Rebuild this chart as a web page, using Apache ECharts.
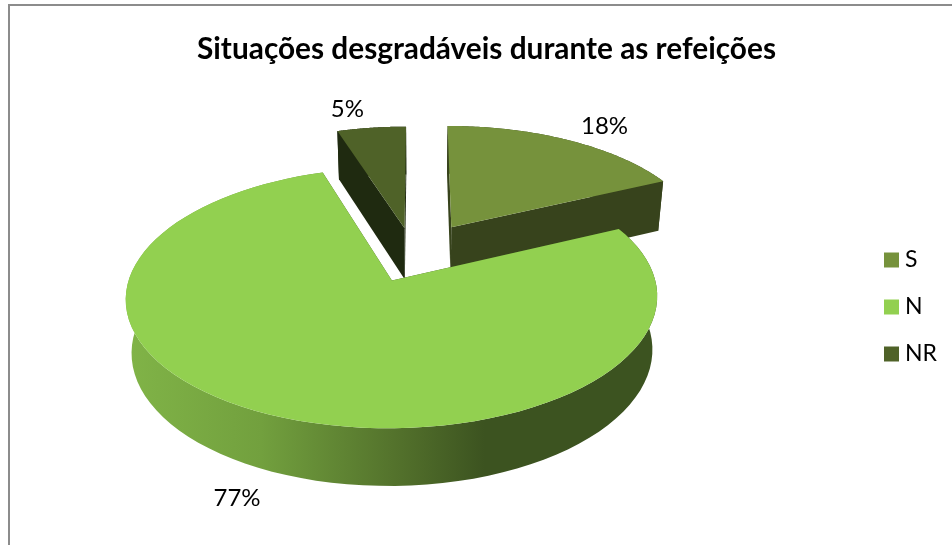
<!DOCTYPE html>
<html>
<head>
<meta charset="utf-8">
<title>Situações desgradáveis durante as refeições</title>
<script src="https://cdn.jsdelivr.net/npm/echarts@6/dist/echarts.min.js"></script>
<style>
  html, body { margin: 0; padding: 0; background: #fff; overflow: hidden; }
  #main { width: 952px; height: 545px; }
</style>
</head>
<body>
<div id="main"></div>
<script>
const titleText = 'Situações desgradáveis durante as refeições';
const categories = ['S', 'N', 'NR'];
const percents = [18, 77, 5];

// estilo de cada fatia
const topColors = { S: '#76923c', N: '#92d050', NR: '#4f6228' };
const wallColors = { S: '#37431c', N: '#3c5320', NR: '#1f2a10' };
const labelOffsets = { S: [36, -14], N: [-32, 84], NR: [-24, -18] };
// deslocamento da fatia no disco (explosao), em raios
const explodes = { S: [0.134, 0.211], N: [-0.099, -0.229], NR: [-0.054, 0.203] };

// vista 3D: centro, raios, perspectiva
const view = { cx: 418, cy: 252, rx: 255.5, ry: 120.5, k: 0.13, bottomScale: 0.98 };
const STEPS = 90;

const total = percents.reduce((a, b) => a + b, 0);

// ponto do disco (x para a direita, y para o fundo) -> ecra
function project(x, y, low) {
  const s = 1 / (1 + view.k * y);
  let px = view.cx + view.rx * x * s;
  let py = view.cy - view.ry * y * s;
  if (low) {
    px = view.cx + (px - view.cx) * view.bottomScale;
    py += 22 + 30 * s;
  }
  return [px, py];
}

function sliceGeometry(name) {
  const i = categories.indexOf(name);
  const before = percents.slice(0, i).reduce((a, b) => a + b, 0);
  const a0 = before / total * Math.PI * 2;
  const a1 = (before + percents[i]) / total * Math.PI * 2;
  const mid = (a0 + a1) / 2;
  const ox = explodes[name][0];
  const oy = explodes[name][1];
  const arc = low => {
    const pts = [];
    for (let t = 0; t <= STEPS; t++) {
      const a = a0 + (a1 - a0) * t / STEPS;
      pts.push(project(ox + Math.sin(a), oy + Math.cos(a), low));
    }
    return pts;
  };
  return { mid, ox, oy, arc };
}

function renderSlice(name, value) {
  const g = sliceGeometry(name);
  const top = g.arc(false);
  const low = g.arc(true);
  const apex = project(g.ox, g.oy, false);
  const apexLow = project(g.ox, g.oy, true);
  const last = top.length - 1;

  let rimFill = wallColors[name];
  if (name === 'N') {
    rimFill = new echarts.graphic.LinearGradient(131, 0, 651, 0, [
      { offset: 0, color: '#80b347' },
      { offset: 0.25, color: '#72a03e' },
      { offset: 0.52, color: '#52702b' },
      { offset: 0.68, color: '#3c5320' },
      { offset: 1, color: '#3c5320' }
    ], true);
  }

  const poly = (points, fill) => ({
    type: 'polygon',
    shape: { points },
    style: { fill, stroke: null }
  });

  const rm = project(g.ox + Math.sin(g.mid), g.oy + Math.cos(g.mid), false);
  const off = labelOffsets[name];

  return {
    type: 'group',
    children: [
      poly(top.concat(low.slice().reverse()), rimFill),
      poly([apex, top[0], low[0], apexLow], wallColors[name]),
      poly([apex, top[last], low[last], apexLow], wallColors[name]),
      poly([apex].concat(top), topColors[name]),
      {
        type: 'text',
        style: {
          text: value + '%',
          x: rm[0] + off[0],
          y: rm[1] + off[1],
          align: 'center',
          verticalAlign: 'middle',
          font: '24px Lato',
          fill: '#000'
        }
      }
    ]
  };
}

const myChart = echarts.init(document.getElementById('main'));

// ordem de desenho: do fundo para a frente
const drawOrder = ['S', 'NR', 'N'];

myChart.setOption({
  animation: false,
  backgroundColor: '#fff',
  title: {
    text: titleText,
    left: 481.5,
    top: 29,
    textAlign: 'center',
    textStyle: { fontFamily: 'Lato', fontSize: 29.8, fontWeight: 'bold', color: '#000' }
  },
  legend: {
    data: categories,
    orient: 'vertical',
    left: 879,
    top: 243.5,
    icon: 'rect',
    itemWidth: 15,
    itemHeight: 15,
    itemGap: 24,
    textStyle: { fontFamily: 'Lato', fontSize: 23, color: '#000', padding: [0, 0, 0, 1] }
  },
  graphic: [{
    type: 'rect',
    shape: { x: 9, y: 5, width: 980, height: 580 },
    style: { fill: 'none', stroke: '#8c8c8c', lineWidth: 2 },
    silent: true
  }],
  series: drawOrder.map(name => ({
    name: name,
    type: 'custom',
    coordinateSystem: 'none',
    itemStyle: { color: topColors[name] },
    data: [percents[categories.indexOf(name)]],
    renderItem: (params, api) => renderSlice(name, api.value(0))
  }))
});
</script>
</body>
</html>
